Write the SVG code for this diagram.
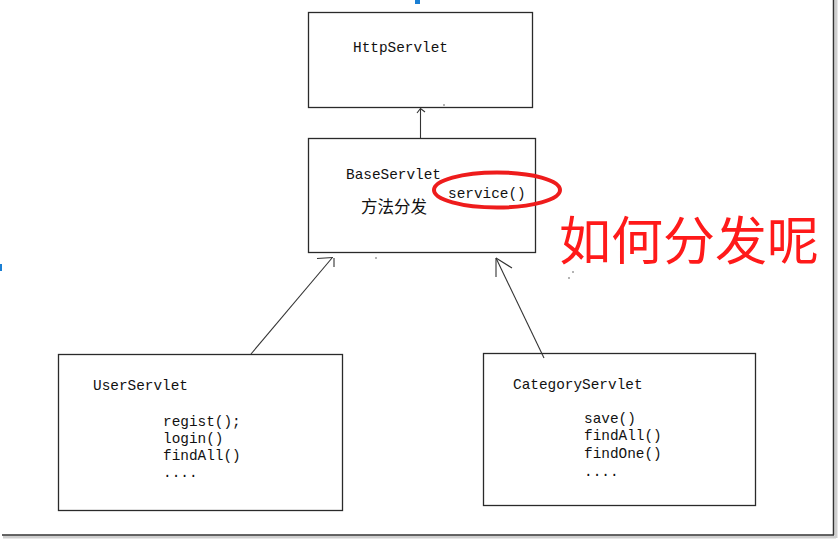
<svg xmlns="http://www.w3.org/2000/svg" width="838" height="539" viewBox="0 0 838 539">
<style>
.box{fill:#fff;stroke:#2a2a2a;stroke-width:1.3}
.t{font-family:"Liberation Mono","DejaVu Sans Mono",monospace;font-size:14.4px;fill:#111}
.cn{font-family:"Noto Sans CJK SC","Noto Sans",sans-serif;fill:#111}
.ln{stroke:#333;stroke-width:1.1;fill:none}
.dot{fill:#555}
</style>
<rect width="838" height="539" fill="#fff"/>
<!-- frame -->
<g id="frame">
<line x1="836" y1="0" x2="836" y2="538" stroke="#cfcfcf" stroke-width="3"/>
<line x1="3" y1="537" x2="836" y2="537" stroke="#cfcfcf" stroke-width="3"/>
<line x1="833.5" y1="0" x2="833.5" y2="535" stroke="#333" stroke-width="1.5"/>
<line x1="2" y1="535" x2="834" y2="535" stroke="#333" stroke-width="1.5"/>
<rect x="415" y="0" width="5" height="4" fill="#1a7fd4"/>
<rect x="0" y="264" width="2" height="7" fill="#1a7fd4"/>
</g>
<g id="HttpServlet">
<rect class="box" x="308.5" y="12.5" width="224" height="95"/>
<text class="t" x="353" y="52">HttpServlet</text>
</g>
<g id="BaseServlet">
<rect class="box" x="308.5" y="138.5" width="227" height="114"/>
<text class="t" x="346" y="179">BaseServlet</text>
<text class="cn" x="361" y="213" font-size="16.5">方法分发</text>
<text class="t" x="448" y="198">service()</text>
<ellipse cx="497" cy="190" rx="63" ry="17.5" fill="none" stroke="#ee1c1c" stroke-width="4"/>
</g>
<g id="UserServlet">
<rect class="box" x="58.5" y="354.5" width="284" height="156"/>
<text class="t" x="93" y="390">UserServlet</text>
<text class="t" x="163" y="426">regist();</text>
<text class="t" x="163" y="443">login()</text>
<text class="t" x="163" y="460">findAll()</text>
<text class="t" x="163" y="477">....</text>
</g>
<g id="CategoryServlet">
<rect class="box" x="483.5" y="353.5" width="272" height="152"/>
<text class="t" x="513" y="389">CategoryServlet</text>
<text class="t" x="584" y="423">save()</text>
<text class="t" x="584" y="440">findAll()</text>
<text class="t" x="584" y="458">findOne()</text>
<text class="t" x="584" y="476">....</text>
</g>
<g id="question">
<text x="559" y="260" font-family="'Noto Sans CJK SC','Noto Sans',sans-serif" font-size="52" fill="#ff1a1a">如何分发呢</text>
</g>
<g id="connectors">
<line class="ln" x1="420.5" y1="138" x2="420.5" y2="109"/>
<path class="ln" d="M417,113 L420.5,108.5 L425,112"/>
<line class="ln" x1="251" y1="354" x2="332" y2="258"/>
<path class="ln" d="M317,258.5 L333,257.5 M334,258 L334,267"/>
<line class="ln" x1="544" y1="358" x2="496" y2="258"/>
<path class="ln" d="M496,258 L496,277 M496,258 L512,268"/>
</g>
<g id="marks">
<circle class="dot" cx="444" cy="105" r="0.8"/>
<circle class="dot" cx="376" cy="258" r="0.8"/>
<circle class="dot" cx="573" cy="272" r="0.8"/>
<circle class="dot" cx="569" cy="278" r="0.8"/>
</g>
</svg>
